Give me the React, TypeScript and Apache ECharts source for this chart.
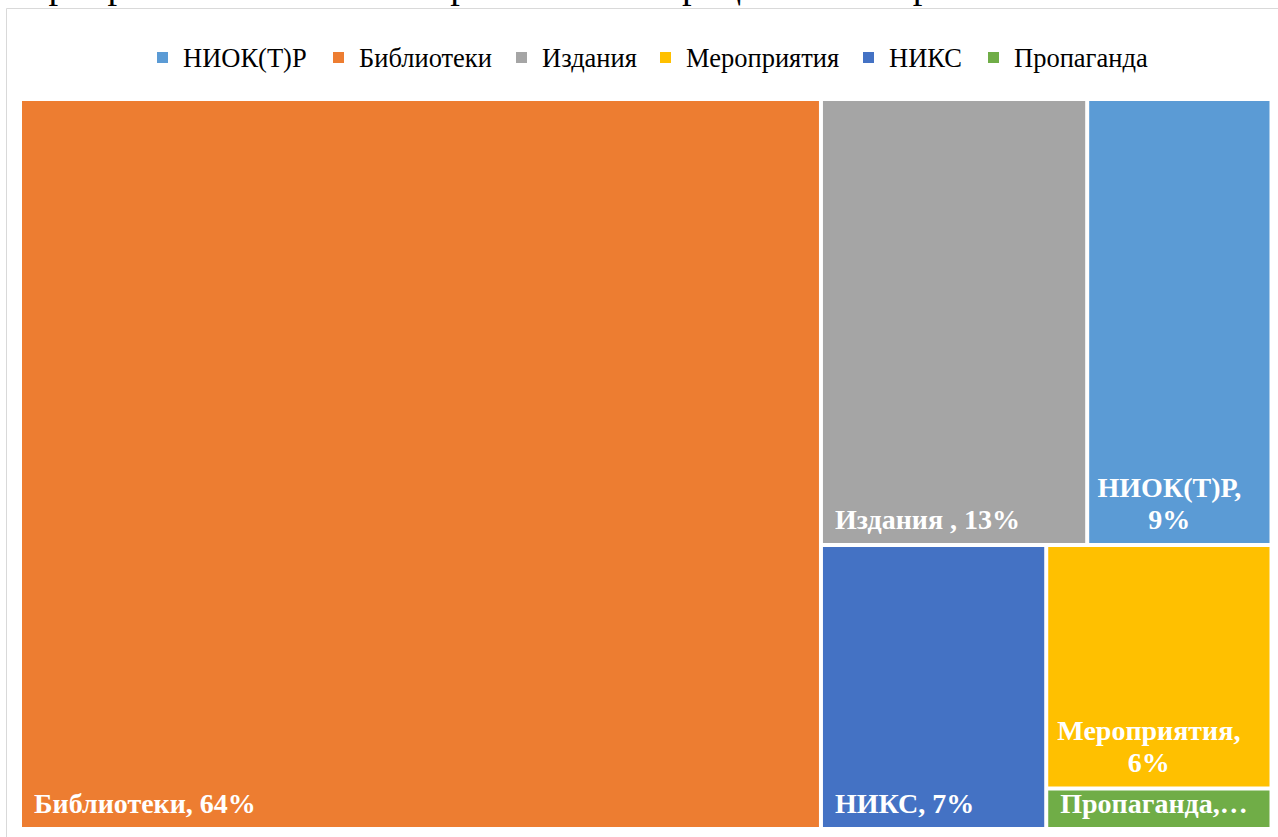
import React, { useEffect, useRef } from "react";
import * as echarts from "echarts";

const categories = ["НИОК(Т)Р", "Библиотеки", "Издания ", "Мероприятия", "НИКС", "Пропаганда"];
const legendNames = ["НИОК(Т)Р", "Библиотеки", "Издания", "Мероприятия", "НИКС", "Пропаганда"];
const shares = [9, 64, 13, 6, 7, 1];
const colors = ["#5B9BD5", "#ED7D31", "#A5A5A5", "#FFC000", "#4472C4", "#70AD47"];
const labelFormats = ["{b},\n{c}%", "{b}, {c}%", "{b}, {c}%", "{b},\n{c}%", "{b}, {c}%", "{b},…"];
const titleText = "мероприятия в СНГ по направлениям в процентном выражении";

// legend layout (pixel positions of each legend entry's marker)
const legendMarkerX = [157, 333, 516, 660, 863, 988];

const FONT = "Liberation Serif";

export default function App() {
  const ref = useRef<HTMLDivElement>(null);
  useEffect(() => {
    if (!ref.current) return;
    const chart = echarts.init(ref.current, null, { renderer: "svg" });
    const treeData = categories.map((name, i) => {
      const wrap = labelFormats[i].includes("\n");
      return {
        name,
        value: shares[i],
        itemStyle: { color: colors[i] },
        label: wrap
          ? { position: "insideBottom", align: "center", formatter: labelFormats[i], padding: [0, 22, 2, 2] }
          : { position: "insideBottomLeft", align: "left", formatter: labelFormats[i] },
      };
    });
    const legendGraphics = legendNames.flatMap((name, i) => [
      {
        type: "rect",
        shape: { x: legendMarkerX[i], y: 52, width: 11, height: 11 },
        style: { fill: colors[i] },
        silent: true,
      },
      {
        type: "text",
        x: legendMarkerX[i] + 26,
        y: 57.5,
        style: { text: name, fontFamily: FONT, fontSize: 26.5, fill: "#000", verticalAlign: "middle" },
        silent: true,
      },
    ]);
    chart.setOption({
      animation: false,
      textStyle: { fontFamily: FONT },
      graphic: [
        {
          type: "rect",
          shape: { x: 6.5, y: 8.5, width: 1400, height: 900 },
          style: { fill: "none", stroke: "#d9d9d9", lineWidth: 1 },
          silent: true,
        },
        {
          type: "text",
          x: 7,
          y: 4,
          style: {
            text: titleText,
            fontFamily: FONT,
            fontSize: 38.5,
            fill: "#000",
            verticalAlign: "bottom",
          },
          silent: true,
        },
        ...legendGraphics,
      ],
      series: [
        {
          type: "treemap",
          left: 22,
          top: 101,
          width: 1247.5,
          height: 726,
          roam: false,
          nodeClick: false,
          squareRatio: 1.35,
          breadcrumb: { show: false },
          emphasis: { disabled: true },
          levels: [
            { itemStyle: { borderWidth: 0, gapWidth: 4, borderColor: "#fff" } },
            { itemStyle: { borderWidth: 0, gapWidth: 0 } },
          ],
          label: {
            show: true,
            fontFamily: FONT,
            fontSize: 28,
            fontWeight: "bold",
            color: "#fff",
            distance: 6,
            padding: [0, 4, 2, 6],
            lineHeight: 32,
            overflow: "none",
          },
          data: treeData,
        },
      ],
    });
    return () => chart.dispose();
  }, []);
  return (
    <div
      ref={ref}
      style={{ position: "absolute", left: 0, top: 0, width: 1278, height: 837, background: "#fff" }}
    />
  );
}
